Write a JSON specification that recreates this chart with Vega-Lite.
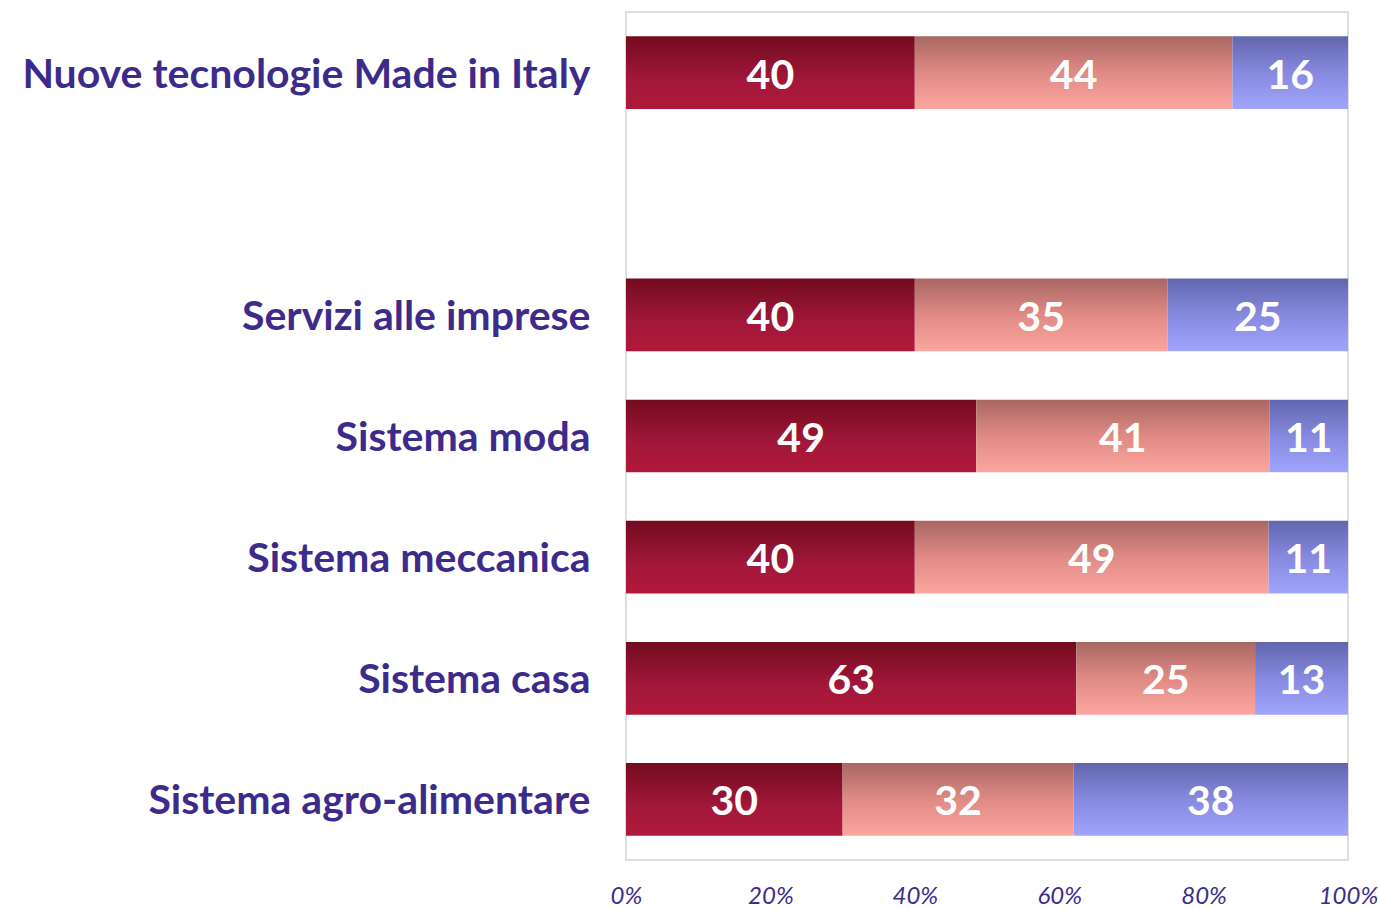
{
  "$schema": "https://vega.github.io/schema/vega-lite/v6.json",
  "width": 722,
  "height": 848,
  "autosize": {"type": "none"},
  "padding": {"left": 626, "top": 12, "right": 30, "bottom": 48},
  "background": "white",
  "config": {
    "view": {"stroke": "#d4d4d4", "strokeWidth": 1.5},
    "font": "Lato"
  },
  "data": {
    "values": [
      {"cat": "Nuove tecnologie Made in Italy", "serie": "A", "o": 1, "v": 40},
      {"cat": "Nuove tecnologie Made in Italy", "serie": "B", "o": 2, "v": 44},
      {"cat": "Nuove tecnologie Made in Italy", "serie": "C", "o": 3, "v": 16},
      {"cat": "Servizi alle imprese", "serie": "A", "o": 1, "v": 40},
      {"cat": "Servizi alle imprese", "serie": "B", "o": 2, "v": 35},
      {"cat": "Servizi alle imprese", "serie": "C", "o": 3, "v": 25},
      {"cat": "Sistema moda", "serie": "A", "o": 1, "v": 49},
      {"cat": "Sistema moda", "serie": "B", "o": 2, "v": 41},
      {"cat": "Sistema moda", "serie": "C", "o": 3, "v": 11},
      {"cat": "Sistema meccanica", "serie": "A", "o": 1, "v": 40},
      {"cat": "Sistema meccanica", "serie": "B", "o": 2, "v": 49},
      {"cat": "Sistema meccanica", "serie": "C", "o": 3, "v": 11},
      {"cat": "Sistema casa", "serie": "A", "o": 1, "v": 63},
      {"cat": "Sistema casa", "serie": "B", "o": 2, "v": 25},
      {"cat": "Sistema casa", "serie": "C", "o": 3, "v": 13},
      {"cat": "Sistema agro-alimentare", "serie": "A", "o": 1, "v": 30},
      {"cat": "Sistema agro-alimentare", "serie": "B", "o": 2, "v": 32},
      {"cat": "Sistema agro-alimentare", "serie": "C", "o": 3, "v": 38}
    ]
  },
  "transform": [
    {"stack": "v", "groupby": ["cat"], "sort": [{"field": "o", "order": "ascending"}], "as": ["x0", "x1"], "offset": "normalize"},
    {"calculate": "(datum.x0 + datum.x1) / 2", "as": "xm"}
  ],
  "encoding": {
    "y": {
      "field": "cat",
      "type": "nominal",
      "scale": {
        "domain": ["Nuove tecnologie Made in Italy", " ", "Servizi alle imprese", "Sistema moda", "Sistema meccanica", "Sistema casa", "Sistema agro-alimentare"],
        "paddingInner": 0.4,
        "paddingOuter": 0.2
      },
      "axis": {
        "title": null,
        "domain": false,
        "ticks": false,
        "labelFont": "Lato",
        "labelFontSize": 41,
        "labelFontWeight": "bold",
        "labelColor": "#3d2b8c",
        "labelPadding": 36,
        "labelOffset": 3,
        "labelLimit": 700
      }
    }
  },
  "layer": [
    {
      "transform": [{"filter": "datum.serie === 'A'"}],
      "mark": {"type": "bar", "color": {"gradient": "linear", "x1": 0, "y1": 0, "x2": 0, "y2": 1, "stops": [{"offset": 0, "color": "#730b1f"}, {"offset": 0.6, "color": "#a2173a"}, {"offset": 1, "color": "#b1193b"}]}},
      "encoding": {
        "x": {"field": "x0", "type": "quantitative", "scale": {"domain": [0, 1], "nice": false},
          "axis": {"title": null, "format": ".0%", "values": [0, 0.2, 0.4, 0.6, 0.8, 1], "grid": false, "ticks": false, "domain": false,
            "labelFont": "Lato", "labelFontSize": 24, "labelFontStyle": "italic", "labelColor": "#3d2b8c", "labelPadding": 24, "labelFlush": false}},
        "x2": {"field": "x1"}
      }
    },
    {
      "transform": [{"filter": "datum.serie === 'B'"}],
      "mark": {"type": "bar", "color": {"gradient": "linear", "x1": 0, "y1": 0, "x2": 0, "y2": 1, "stops": [{"offset": 0, "color": "#a86763"}, {"offset": 0.5, "color": "#e08a85"}, {"offset": 1, "color": "#fca6a0"}]}},
      "encoding": {
        "x": {"field": "x0", "type": "quantitative"},
        "x2": {"field": "x1"}
      }
    },
    {
      "transform": [{"filter": "datum.serie === 'C'"}],
      "mark": {"type": "bar", "color": {"gradient": "linear", "x1": 0, "y1": 0, "x2": 0, "y2": 1, "stops": [{"offset": 0, "color": "#6266ad"}, {"offset": 0.5, "color": "#8689de"}, {"offset": 1, "color": "#a0a4fc"}]}},
      "encoding": {
        "x": {"field": "x0", "type": "quantitative"},
        "x2": {"field": "x1"}
      }
    },
    {
      "mark": {"type": "text", "color": "white", "font": "Lato", "fontSize": 41, "fontWeight": "bold", "align": "center", "baseline": "middle", "dy": 4},
      "encoding": {
        "x": {"field": "xm", "type": "quantitative"},
        "text": {"field": "v", "type": "quantitative"}
      }
    }
  ]
}
